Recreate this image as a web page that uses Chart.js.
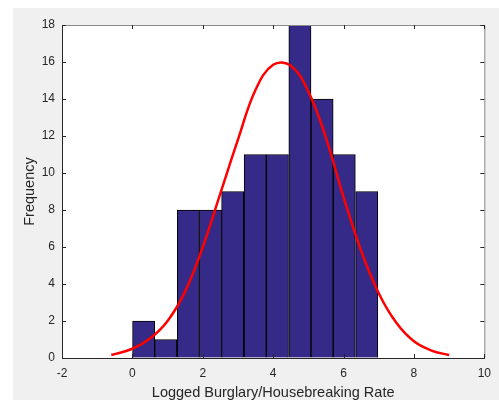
<!DOCTYPE html>
<html>
<head>
<meta charset="utf-8">
<script src="https://cdn.jsdelivr.net/npm/chart.js@4"></script>
<style>
  html, body { margin: 0; padding: 0; background: #fff; }
  #chart { display: block; }
</style>
</head>
<body>
<canvas id="chart" width="499" height="400"></canvas>
<script>
// histogram bins (centres) and counts
const binCenters = [0.32, 0.95, 1.59, 2.22, 2.85, 3.49, 4.12, 4.76, 5.39, 6.02, 6.66];
const binCounts = [2, 1, 8, 8, 9, 11, 11, 18, 14, 11, 9];

// fitted normal curve
const fitX = [-0.6, 0, 0.5, 1, 1.5, 2, 2.5, 3, 3.5, 4, 4.5, 5, 5.5, 6, 6.5, 7, 7.5, 8, 8.5, 9];
const fitY = [0.16, 0.5, 1.05, 2.0, 3.6, 6.0, 8.9, 11.8, 14.5, 15.85, 15.8, 14.4, 11.9, 8.7, 5.8, 3.5, 1.9, 0.9, 0.4, 0.16];

const xTicks = [-2, 0, 2, 4, 6, 8, 10];
const yTicks = [0, 2, 4, 6, 8, 10, 12, 14, 16, 18];

const axisColor = '#262626';
const font = 'Liberation Sans, Arial, Helvetica, sans-serif';

// grey figure background + white axes area
const backdrop = {
  id: 'backdrop',
  beforeDraw(chart) {
    const { ctx, chartArea: a } = chart;
    ctx.save();
    ctx.fillStyle = '#fff';
    ctx.fillRect(0, 0, chart.width, chart.height);
    ctx.fillStyle = '#f0f0f0';
    ctx.fillRect(13, 8, chart.width - 13, chart.height - 8);
    ctx.fillStyle = '#fff';
    ctx.fillRect(a.left, a.top, a.right - a.left, a.bottom - a.top);
    ctx.restore();
  }
};

// matlab style box with inward ticks
const boxTicks = {
  id: 'boxTicks',
  afterDraw(chart) {
    const { ctx, chartArea: a, scales } = chart;
    const len = 4;
    ctx.save();
    ctx.lineWidth = 1;
    ctx.strokeStyle = '#8a8a8a';
    ctx.beginPath();
    ctx.moveTo(a.left, a.top + 0.5);
    ctx.lineTo(a.right + 0.5, a.top + 0.5);
    ctx.lineTo(a.right + 0.5, a.bottom);
    ctx.stroke();

    ctx.strokeStyle = axisColor;
    ctx.beginPath();
    xTicks.forEach(v => {
      const px = Math.round(scales.x.getPixelForValue(v)) + 0.5;
      ctx.moveTo(px, a.bottom); ctx.lineTo(px, a.bottom - len);
      ctx.moveTo(px, a.top); ctx.lineTo(px, a.top + len);
    });
    yTicks.forEach(v => {
      const py = Math.round(scales.y.getPixelForValue(v)) + 0.5;
      ctx.moveTo(a.left, py); ctx.lineTo(a.left + len, py);
      ctx.moveTo(a.right, py); ctx.lineTo(a.right - len, py);
    });
    ctx.stroke();
    ctx.restore();
  }
};

new Chart(document.getElementById('chart'), {
  type: 'bar',
  data: {
    datasets: [
      {
        type: 'line',
        label: 'Normal fit',
        data: fitX.map((x, i) => ({ x: x, y: fitY[i] })),
        borderColor: '#ff0000',
        borderWidth: 2.5,
        pointRadius: 0,
        tension: 0.4,
        order: 0
      },
      {
        label: 'Frequency',
        data: binCenters.map((x, i) => ({ x: x, y: binCounts[i] })),
        backgroundColor: '#352a87',
        borderColor: '#000',
        borderWidth: 1,
        barPercentage: 1,
        categoryPercentage: 1,
        order: 1
      }
    ]
  },
  options: {
    responsive: false,
    devicePixelRatio: 1,
    animation: false,
    layout: { padding: { top: 25, right: 14, left: 0, bottom: 0 } },
    plugins: { legend: { display: false }, tooltip: { enabled: false } },
    scales: {
      x: {
        type: 'linear',
        min: -2,
        max: 10,
        offset: false,
        afterBuildTicks: s => { s.ticks = xTicks.map(v => ({ value: v })); },
        afterFit: s => { s.height = 42; },
        grid: { display: true, drawOnChartArea: false, drawTicks: false, offset: false },
        border: { display: true, color: axisColor, width: 1 },
        ticks: { color: axisColor, padding: 8, maxRotation: 0, font: { family: font, size: 12 } },
        title: {
          display: true,
          text: 'Logged Burglary/Housebreaking Rate',
          color: axisColor,
          padding: 0,
          font: { family: font, size: 14.5, lineHeight: 1 }
        }
      },
      y: {
        min: 0,
        max: 18,
        afterBuildTicks: s => { s.ticks = yTicks.map(v => ({ value: v })); },
        afterFit: s => { s.width = 62; },
        grid: { display: true, drawOnChartArea: false, drawTicks: false },
        border: { display: true, color: axisColor, width: 1 },
        ticks: { color: axisColor, padding: 7, font: { family: font, size: 12 } },
        title: {
          display: true,
          text: 'Frequency',
          color: axisColor,
          padding: { top: 23, bottom: 0 },
          font: { family: font, size: 14.5, lineHeight: 1 }
        }
      }
    }
  },
  plugins: [backdrop, boxTicks]
});
</script>
</body>
</html>
